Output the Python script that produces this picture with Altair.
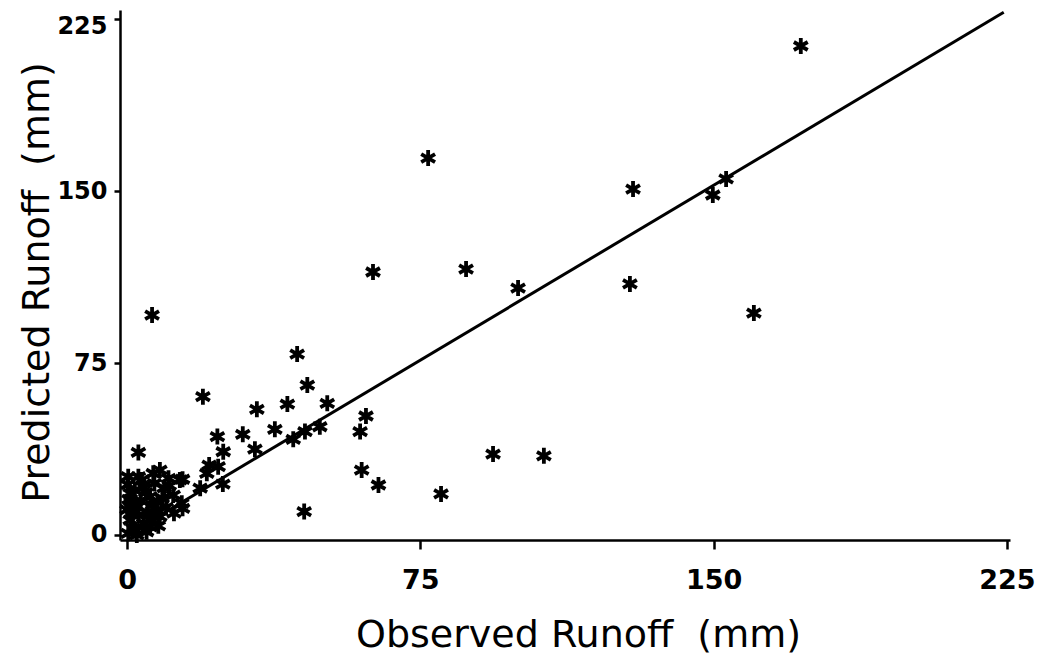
import altair as alt
import pandas as pd

# Observed vs predicted runoff (mm)
observed = [
    172.3, 77.0, 129.4, 149.8, 153.2, 62.9, 86.7, 100.0, 128.6, 160.3, 6.4,
    93.6, 106.6, 80.3, 2.9,
    43.5, 46.1, 19.4, 33.2, 41.0, 51.2, 61.1, 59.6, 23.1, 29.6, 37.8, 24.6,
    32.7, 42.5, 45.5, 49.3, 21.0, 23.3, 20.4, 18.7, 24.5, 14.2, 14.2, 60.0,
    64.3, 45.3,
    0.3, 2.9, 6.7, 8.4, 10.6, 13.5, 11.8, 14.0, 4.2, 0.8, 5.9, 2.5, 7.6, 0.8,
    4.2, 8.4, 0.3, 2.5, 5.0, 0.0, 0.2, 5.9, 9.5, 7.0, 3.5, 1.5, 10.0, 12.0,
    1.0, 3.0, 6.5, 9.0, 2.0, 8.0,
    1.2, 4.8, 7.8, 3.8, 10.8, 6.0, 2.2, 0.5, 5.2,
]
predicted = [
    213.3, 164.4, 150.9, 148.3, 155.3, 114.7, 116.0, 107.7, 109.5, 96.8, 95.9,
    35.3, 34.5, 17.9, 36.0,
    78.9, 65.4, 60.3, 54.8, 57.1, 57.4, 51.9, 45.1, 42.9, 43.9, 46.1, 36.3,
    37.4, 41.7, 45.1, 47.2, 30.5, 29.8, 26.9, 20.4, 22.2, 24.3, 11.6, 28.3,
    21.8, 10.2,
    25.4, 25.4, 26.9, 28.3, 24.7, 24.0, 17.4, 13.8, 21.0, 18.2, 16.7, 12.3,
    10.9, 6.5, 5.1, 8.0, 0.7, 0.0, 1.4, 11.0, 22.0, 3.5, 20.5, 22.5, 15.0,
    3.0, 12.0, 9.5, 14.5, 8.5, 13.0, 16.0, 19.5, 4.0,
    9.0, 18.5, 14.5, 24.0, 21.5, 7.0, 2.0, 15.5, 10.0,
]

# Fitted line end points
line_obs = [0.0, 224.2]
line_pred = [0.0, 228.0]

tick_values = [0, 75, 150, 225]

pts = pd.DataFrame({"Observed": observed, "Predicted": predicted})
ln = pd.DataFrame({"Observed": line_obs, "Predicted": line_pred})

xscale = alt.Scale(domain=[-1.8, 225.8], nice=False, zero=False)
yscale = alt.Scale(domain=[-2.2, 229], nice=False, zero=False)

xaxis = alt.Axis(
    values=tick_values, title="Observed Runoff\u00a0 (mm)", grid=False,
    domainColor="black", domainWidth=2.5, tickColor="black", tickWidth=2.5,
    tickSize=9, labelFont="DejaVu Sans", labelFontWeight="bold",
    labelFontSize=27, labelColor="black", labelPadding=18, labelFlush=False,
    titleFont="DejaVu Sans", titleFontSize=38, titleFontWeight="normal",
    titleColor="black", titleX=458, titleY=106, titleBaseline="alphabetic",
)
yaxis = alt.Axis(
    values=tick_values, title="Predicted Runoff\u00a0 (mm)", grid=False,
    domainColor="black", domainWidth=2.5, tickColor="black", tickWidth=2.5,
    tickSize=6, labelFont="DejaVu Sans", labelFontWeight="bold",
    labelFontSize=24, labelColor="black", labelPadding=7, labelFlush=False,
    labelOffset={"condition": {"test": "datum.value == 225", "value": 7}, "value": 0},
    titleFont="DejaVu Sans", titleFontSize=38, titleFontWeight="normal",
    titleColor="black", titleX=-72, titleY=272, titleBaseline="alphabetic",
    titleAngle=270,
)

star = "M0,-1L0,1M-0.866,-0.5L0.866,0.5M-0.866,0.5L0.866,-0.5"

line = alt.Chart(ln).mark_line(color="black", strokeWidth=3).encode(
    x=alt.X("Observed:Q", scale=xscale, axis=xaxis),
    y=alt.Y("Predicted:Q", scale=yscale, axis=yaxis),
)
points = alt.Chart(pts).mark_point(
    shape=star, size=256, filled=False, color="black", strokeWidth=3.8,
    opacity=1,
).encode(
    x=alt.X("Observed:Q", scale=xscale, axis=xaxis),
    y=alt.Y("Predicted:Q", scale=yscale, axis=yaxis),
)

chart = alt.layer(line, points).properties(
    width=890, height=530,
    autosize=alt.AutoSizeParams(type="none"),
    padding={"left": 112, "top": 2, "right": 30, "bottom": 118},
    background="white",
).configure_view(stroke=None)

chart.save("out.html", embed_options={"renderer": "svg", "actions": False})
